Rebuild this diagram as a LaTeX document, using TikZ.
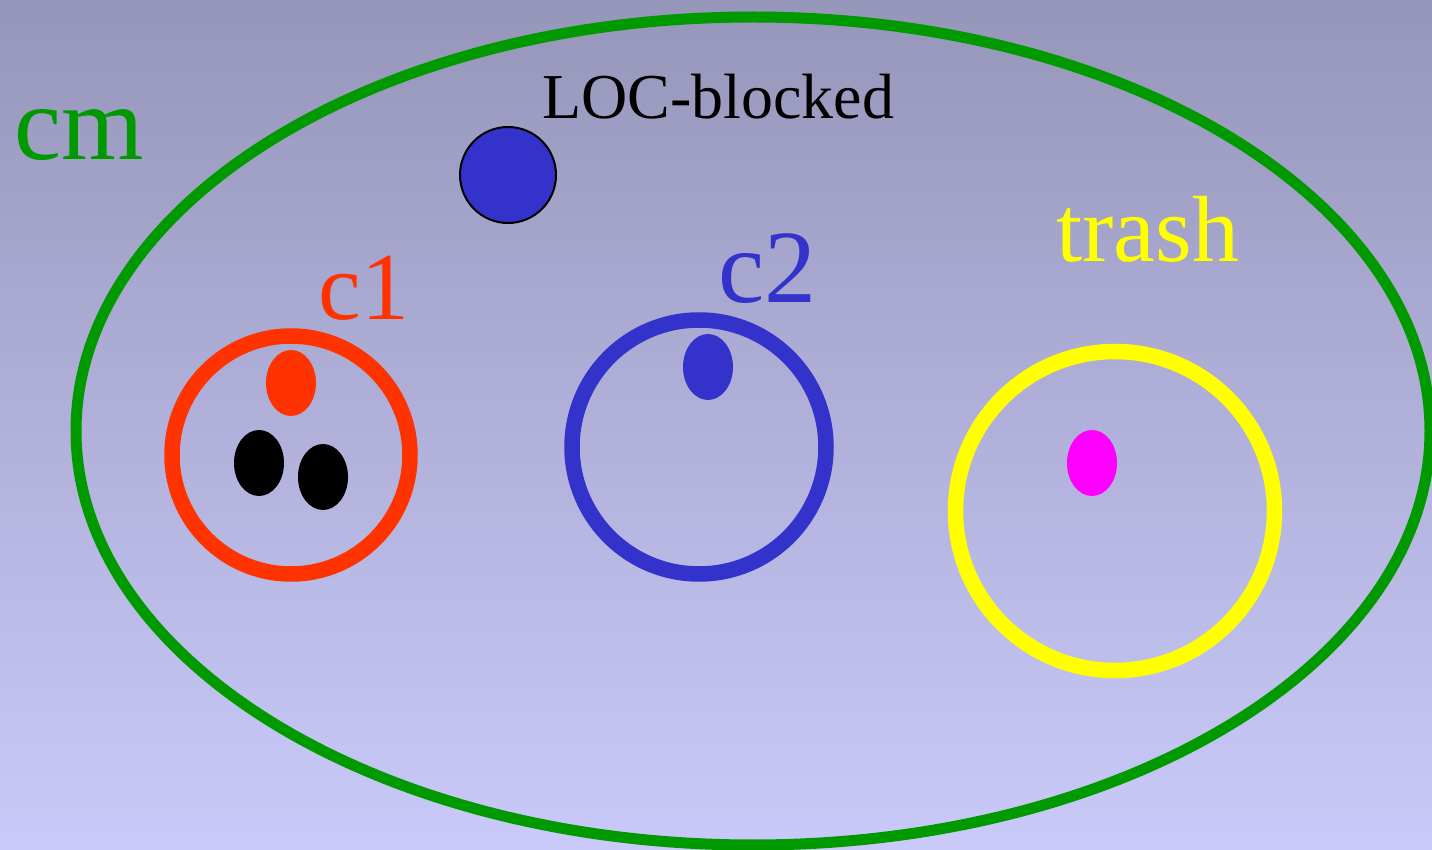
\documentclass[tikz,border=0pt]{standalone}
\usepackage{fontspec}
\setmainfont{Liberation Serif}
\usetikzlibrary{shapes.geometric}
\definecolor{bgtop}{RGB}{150,150,186}
\definecolor{bgbot}{RGB}{202,202,250}
\definecolor{cmgreen}{RGB}{0,153,0}
\definecolor{cred}{RGB}{255,51,0}
\definecolor{cblue}{RGB}{51,51,204}
\definecolor{cyellow}{RGB}{255,255,0}
\definecolor{cmagenta}{RGB}{255,0,255}
\tikzset{
  ring/.style={circle, draw, line width=7.75pt, inner sep=0pt, fill=none},
  dot/.style={ellipse, inner sep=0pt, minimum width=25pt, minimum height=33pt, draw=none},
  lab/.style={anchor=base west, inner sep=0pt, font=\fontsize{50pt}{50pt}\selectfont},
}
\begin{document}
\begin{tikzpicture}[x=0.5pt,y=-0.5pt]
\useasboundingbox (0,0) rectangle (1432,850);
\shade[top color=bgtop, bottom color=bgbot] (0,0) rectangle (1432,850);
\begin{scope}
\clip (0,0) rectangle (1432,850);
\node[ellipse, draw=cmgreen, line width=5.5pt, inner sep=0pt, minimum width=677pt, minimum height=414pt] (cmell) at (753,431) {};
\end{scope}
\node[lab, text=cmgreen, font=\fontsize{53pt}{53pt}\selectfont] (cmlab) at (14,160) {cm};
\node[circle, draw=black, line width=1pt, fill=cblue, inner sep=0pt, minimum size=48pt] (loc) at (508,175) {};
\node[anchor=base west, inner sep=0pt, font=\fontsize{32pt}{32pt}\selectfont] (loclab) at (542,119) {LOC-blocked};
\node[ring, draw=cred, minimum size=119pt] (c1) at (291,455) {};
\node[dot, fill=cred] (r1) at (291,383) {};
\node[dot, fill=black] (b1) at (259,463) {};
\node[dot, fill=black] (b2) at (323,477) {};
\node[lab, text=cred, font=\fontsize{48pt}{48pt}\selectfont] (c1lab) at (318,320) {c1};
\node[ring, draw=cblue, minimum size=127pt] (c2) at (699,447) {};
\node[dot, fill=cblue] (bl1) at (708,367) {};
\node[lab, text=cblue, font=\fontsize{52pt}{52pt}\selectfont] (c2lab) at (718,303) {c2};
\node[ring, draw=cyellow, minimum size=159.5pt] (tr) at (1115,511) {};
\node[dot, fill=cmagenta] (m1) at (1092,463) {};
\node[lab, text=cyellow, font=\fontsize{47pt}{47pt}\selectfont] (trlab) at (1056,262) {trash};
\end{tikzpicture}
\end{document}
